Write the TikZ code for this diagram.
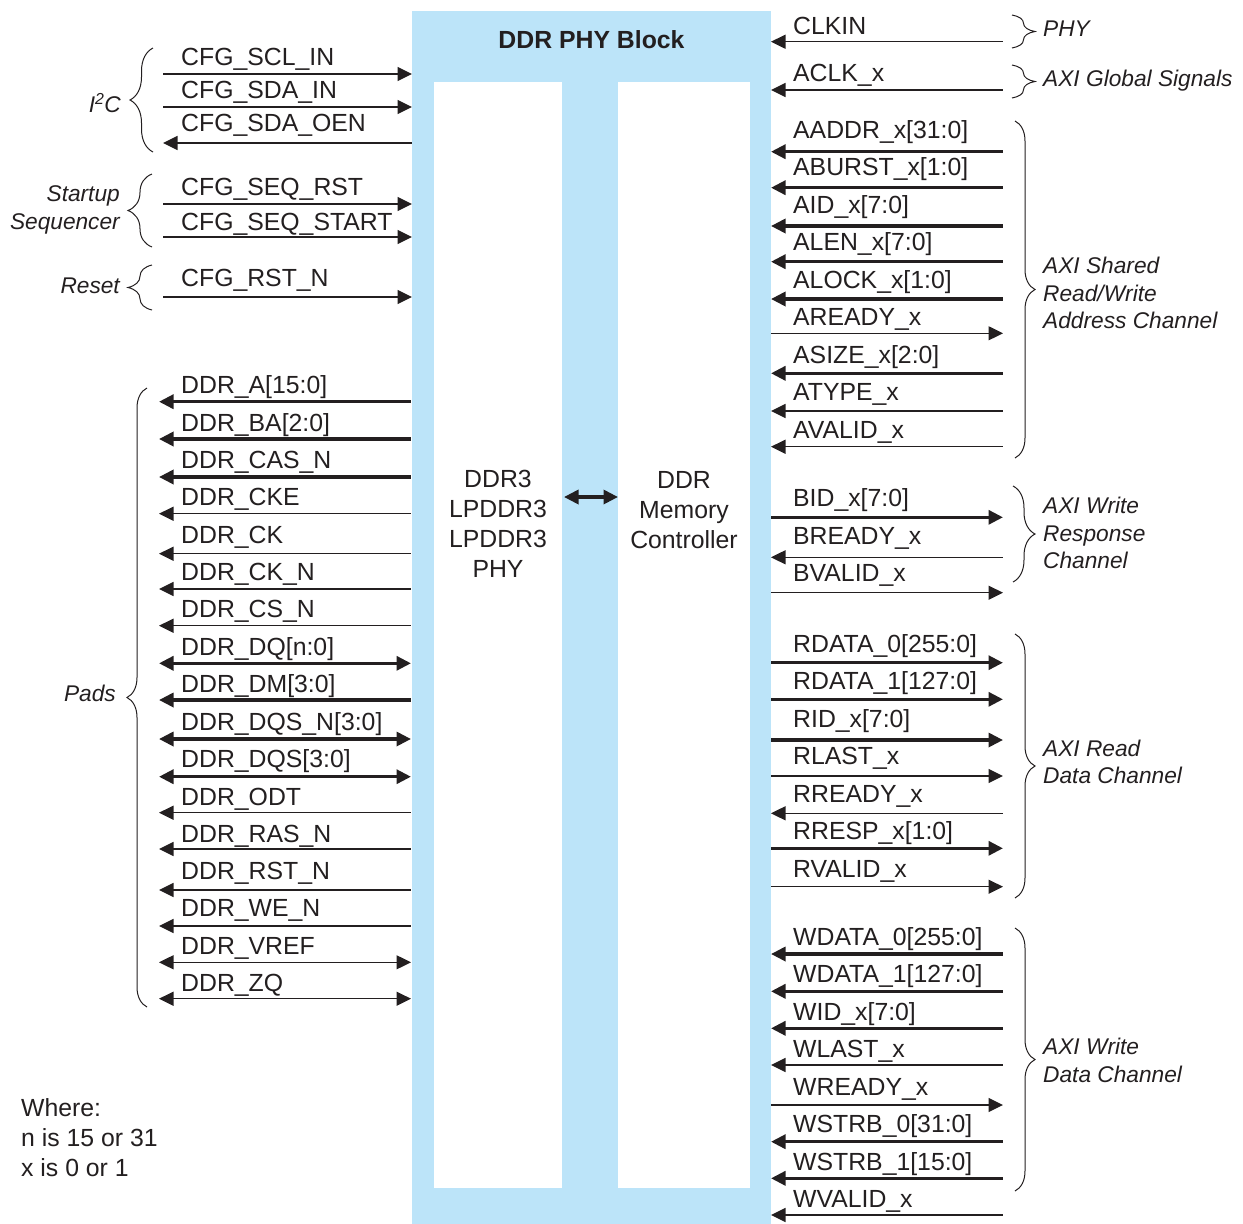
\documentclass[tikz,border=0pt]{standalone}
\usepackage{fontspec}
\setmainfont{Liberation Sans}
\usetikzlibrary{arrows.meta,decorations.pathreplacing}
\definecolor{blkfill}{HTML}{BCE4F9}
\definecolor{ink}{HTML}{231F20}
\newcommand\sgfont{\fontsize{24.8}{30}\selectfont}
\newcommand\grpfont{\fontsize{22.7}{27.5}\selectfont\itshape}
\newcommand\sigrow[8]{%
  \coordinate (#1a) at (#3,#5);
  \coordinate (#1b) at (#4,#5);
  \draw[#2] (#1a) -- (#1b);
  \node[lab] (#1t) at (#6,#7) {#8};
}
\begin{document}
\begin{tikzpicture}[x=1pt,y=-1pt,
  >={Triangle[length=14.5pt,width=14pt]},
  sigthin/.style={draw=ink,line width=1.3pt},
  sigbus/.style={draw=ink,line width=3.3pt},
  lab/.style={anchor=base west,inner sep=0pt,font=\sgfont,text=ink},
  grp/.style={font=\grpfont,inner sep=0pt,text=ink},
  bracedeco/.style={draw=ink,line width=1pt,decorate,decoration={brace,amplitude=#1}},
]
\useasboundingbox (0,0) rectangle (1243,1224);
% block
\fill[blkfill] (412,11) rectangle (771,1224);
\fill[white] (434,82) rectangle (562,1188);
\fill[white] (618,82) rectangle (750,1188);
\node[font=\sgfont\bfseries,text=ink] (title) at (591.5,40) {DDR PHY Block};
\node[font=\sgfont,align=center,text=ink] (phy) at (498,524) {DDR3\\LPDDR3\\LPDDR3\\PHY};
\node[font=\sgfont,align=center,text=ink] (ctrl) at (684,510) {DDR\\Memory\\Controller};
\coordinate (ca) at (564,497);
\coordinate (cb) at (618,497);
\draw[sigbus,<->] (ca) -- (cb);
% left CFG
\sigrow{c1}{sigthin,->}{163}{412}{74}{181}{65}{CFG\_SCL\_IN}
\sigrow{c2}{sigthin,->}{163}{412}{107}{181}{98.3}{CFG\_SDA\_IN}
\sigrow{c3}{sigthin,<-}{163}{412}{143}{181}{131.7}{CFG\_SDA\_OEN}
\sigrow{c4}{sigthin,->}{163}{412}{204}{181}{195}{CFG\_SEQ\_RST}
\sigrow{c5}{sigthin,->}{163}{412}{237}{181}{230}{CFG\_SEQ\_START}
\sigrow{c6}{sigthin,->}{163}{412}{297}{181}{286.7}{CFG\_RST\_N}
% pads
\sigrow{p1}{sigbus,<-}{159}{411}{401.7}{181}{393.5}{DDR\_A[15:0]}
\sigrow{p2}{sigbus,<-}{159}{411}{439}{181}{431}{DDR\_BA[2:0]}
\sigrow{p3}{sigbus,<-}{159}{411}{477}{181}{468.3}{DDR\_CAS\_N}
\sigrow{p4}{sigthin,<-}{159}{411}{513.7}{181}{505.6}{DDR\_CKE}
\sigrow{p5}{sigthin,<-}{159}{411}{553.7}{181}{543}{DDR\_CK}
\sigrow{p6}{sigthin,<-}{159}{411}{589}{181}{580.3}{DDR\_CK\_N}
\sigrow{p7}{sigthin,<-}{159}{411}{625.7}{181}{617.2}{DDR\_CS\_N}
\sigrow{p8}{sigbus,<->}{159}{411}{663.3}{181}{655.5}{DDR\_DQ[n:0]}
\sigrow{p9}{sigbus,<-}{159}{411}{700}{181}{692.5}{DDR\_DM[3:0]}
\sigrow{p10}{sigbus,<->}{159}{411}{739}{181}{730}{DDR\_DQS\_N[3:0]}
\sigrow{p11}{sigbus,<->}{159}{411}{776.7}{181}{767.5}{DDR\_DQS[3:0]}
\sigrow{p12}{sigthin,<-}{159}{411}{812.7}{181}{805}{DDR\_ODT}
\sigrow{p13}{sigthin,<-}{159}{411}{849}{181}{842}{DDR\_RAS\_N}
\sigrow{p14}{sigthin,<-}{159}{411}{890}{181}{879.5}{DDR\_RST\_N}
\sigrow{p15}{sigthin,<-}{159}{411}{926}{181}{916.5}{DDR\_WE\_N}
\sigrow{p16}{sigthin,<->}{159}{411}{962.3}{181}{954}{DDR\_VREF}
\sigrow{p17}{sigthin,<->}{159}{411}{998.7}{181}{991.5}{DDR\_ZQ}
% right
\sigrow{r1}{sigthin,<-}{771}{1003}{41.7}{793}{34.5}{CLKIN}
\sigrow{r2}{sigthin,<-}{771}{1003}{90}{793}{81.5}{ACLK\_x}
\sigrow{r3}{sigbus,<-}{771}{1003}{151.7}{793}{138.5}{AADDR\_x[31:0]}
\sigrow{r4}{sigbus,<-}{771}{1003}{187.7}{793}{175.5}{ABURST\_x[1:0]}
\sigrow{r5}{sigbus,<-}{771}{1003}{226}{793}{213.5}{AID\_x[7:0]}
\sigrow{r6}{sigbus,<-}{771}{1003}{261.7}{793}{250.5}{ALEN\_x[7:0]}
\sigrow{r7}{sigbus,<-}{771}{1003}{299}{793}{288.5}{ALOCK\_x[1:0]}
\sigrow{r8}{sigthin,->}{771}{1003}{333.3}{793}{325.5}{AREADY\_x}
\sigrow{r9}{sigbus,<-}{771}{1003}{373.3}{793}{363.5}{ASIZE\_x[2:0]}
\sigrow{r10}{sigthin,<-}{771}{1003}{411}{793}{400.5}{ATYPE\_x}
\sigrow{r11}{sigthin,<-}{771}{1003}{446.7}{793}{438.5}{AVALID\_x}
\sigrow{r12}{sigbus,->}{771}{1003}{517.3}{793}{506.5}{BID\_x[7:0]}
\sigrow{r13}{sigthin,<-}{771}{1003}{557.3}{793}{544.5}{BREADY\_x}
\sigrow{r14}{sigthin,->}{771}{1003}{592.7}{793}{581.5}{BVALID\_x}
\sigrow{r15}{sigbus,->}{771}{1003}{662.7}{793}{652.5}{RDATA\_0[255:0]}
\sigrow{r16}{sigbus,->}{771}{1003}{699.3}{793}{689.5}{RDATA\_1[127:0]}
\sigrow{r17}{sigbus,->}{771}{1003}{740}{793}{727.5}{RID\_x[7:0]}
\sigrow{r18}{sigthin,->}{771}{1003}{776}{793}{764.5}{RLAST\_x}
\sigrow{r19}{sigthin,<-}{771}{1003}{813.3}{793}{802.5}{RREADY\_x}
\sigrow{r20}{sigbus,->}{771}{1003}{848.3}{793}{839.5}{RRESP\_x[1:0]}
\sigrow{r21}{sigthin,->}{771}{1003}{886.7}{793}{877.5}{RVALID\_x}
\sigrow{r22}{sigbus,<-}{771}{1003}{954}{793}{945.5}{WDATA\_0[255:0]}
\sigrow{r23}{sigbus,<-}{771}{1003}{991.3}{793}{982.5}{WDATA\_1[127:0]}
\sigrow{r24}{sigbus,<-}{771}{1003}{1028.3}{793}{1020.5}{WID\_x[7:0]}
\sigrow{r25}{sigthin,<-}{771}{1003}{1065}{793}{1057.5}{WLAST\_x}
\sigrow{r26}{sigthin,->}{771}{1003}{1105}{793}{1095.5}{WREADY\_x}
\sigrow{r27}{sigbus,<-}{771}{1003}{1141.7}{793}{1132.5}{WSTRB\_0[31:0]}
\sigrow{r28}{sigbus,<-}{771}{1003}{1178.3}{793}{1170.5}{WSTRB\_1[15:0]}
\sigrow{r29}{sigthin,<-}{771}{1003}{1215}{793}{1207.5}{WVALID\_x}
% braces left
\coordinate (bi2ca) at (153,152); \coordinate (bi2cb) at (153,48);
\draw[bracedeco=23pt] (bi2ca) -- (bi2cb);
\coordinate (bsta) at (152,247); \coordinate (bstb) at (152,174);
\draw[bracedeco=24pt] (bsta) -- (bstb);
\coordinate (brsa) at (152,310); \coordinate (brsb) at (152,265);
\draw[bracedeco=24pt] (brsa) -- (brsb);
\coordinate (bpda) at (147,1007); \coordinate (bpdb) at (147,388);
\draw[bracedeco=20pt] (bpda) -- (bpdb);
% braces right
\coordinate (bphya) at (1012,15); \coordinate (bphyb) at (1012,48);
\draw[bracedeco=23pt] (bphya) -- (bphyb);
\coordinate (bgla) at (1012,65); \coordinate (bglb) at (1012,98);
\draw[bracedeco=23pt] (bgla) -- (bglb);
\coordinate (bsha) at (1015,121); \coordinate (bshb) at (1015,458);
\draw[bracedeco=20pt] (bsha) -- (bshb);
\coordinate (bwra) at (1013,486); \coordinate (bwrb) at (1013,582);
\draw[bracedeco=22pt] (bwra) -- (bwrb);
\coordinate (brda) at (1015,634); \coordinate (brdb) at (1015,898);
\draw[bracedeco=20pt] (brda) -- (brdb);
\coordinate (bwda) at (1015,928); \coordinate (bwdb) at (1015,1191);
\draw[bracedeco=20pt] (bwda) -- (bwdb);
% group labels
\node[grp,anchor=east] (gi2c) at (121,103) {I\textsuperscript{2}C};
\node[grp,anchor=east,align=right] (gstart) at (120,210) {Startup\\Sequencer};
\node[grp,anchor=east] (greset) at (120,286) {Reset};
\node[grp,anchor=east] (gpads) at (116,693) {Pads};
\node[grp,anchor=west] (gphy) at (1043,29) {PHY};
\node[grp,anchor=west] (gglob) at (1043,81) {AXI Global Signals};
\node[grp,anchor=west,align=left] (gshared) at (1043,293) {AXI Shared\\Read/Write\\Address Channel};
\node[grp,anchor=west,align=left] (gwresp) at (1043,533) {AXI Write\\Response\\Channel};
\node[grp,anchor=west,align=left] (grdata) at (1043,762) {AXI Read\\Data Channel};
\node[grp,anchor=west,align=left] (gwdata) at (1043,1060.5) {AXI Write\\Data Channel};
% note
\node[font=\sgfont,anchor=west,align=left,inner sep=0pt,text=ink] (note) at (21,1138) {Where:\\n is 15 or 31\\x is 0 or 1};
\end{tikzpicture}
\end{document}
